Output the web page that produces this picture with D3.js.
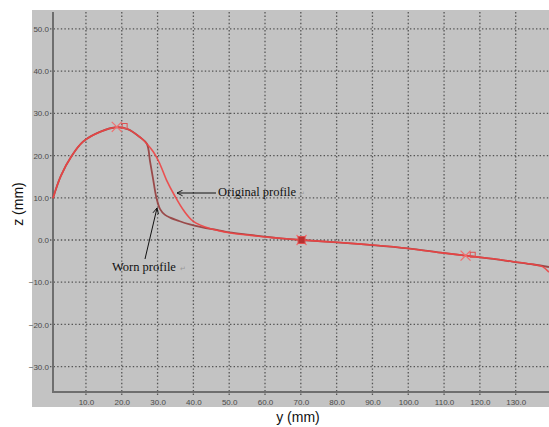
<!DOCTYPE html>
<html>
<head>
<meta charset="utf-8">
<script src="https://cdn.jsdelivr.net/npm/d3@7"></script>
<style>
  html, body { margin: 0; padding: 0; background: #fff; }
  svg { display: block; }
</style>
</head>
<body>
<div id="chart"></div>
<script>
// profile data: y (mm) vs z (mm)
const origY = [0.8, 3, 6, 9.2, 13.9, 18.6, 21.8, 25, 27, 28.8, 30.5, 32.5, 34.9, 37.2, 40, 44.6, 50, 56, 63, 70.2, 80, 90, 100, 109, 116, 123, 129, 135, 137.5, 139.3];
const origZ = [9.9, 15.2, 19.9, 23.3, 25.6, 26.7, 26.2, 24.4, 22.8, 20.9, 18.3, 14.2, 10.3, 7.1, 4.4, 2.7, 1.7, 1.1, 0.5, 0, -0.55, -1.2, -2.0, -3.0, -3.7, -4.4, -5.1, -5.8, -6.3, -7.6];

const wornY = [0.8, 3, 6, 9.2, 13.9, 18.6, 21.8, 25, 27, 27.9, 28.8, 29.6, 30.7, 32, 33.5, 36, 39, 42.5, 46.5, 50, 55.8, 63, 70.2, 80, 90, 100, 109, 116, 123, 129, 135, 139.3];
const wornZ = [9.9, 15.2, 19.9, 23.3, 25.6, 26.7, 26.2, 24.4, 22.8, 18.6, 14.2, 10.3, 7.3, 6.0, 5.3, 4.5, 3.7, 3.0, 2.4, 1.8, 1.2, 0.5, 0, -0.55, -1.2, -2.0, -3.0, -3.7, -4.4, -5.1, -5.8, -6.4];

// marker positions (X crosses and little squares)
const crossY = [18.6, 70.2, 116];
const crossZ = [26.8, 0, -3.7];
const boxY = [20.8, 70.2, 118];
const boxZ = [27.0, 0, -3.5];

const xTicks = [10, 20, 30, 40, 50, 60, 70, 80, 90, 100, 110, 120, 130];
const zTicks = [50, 40, 30, 20, 10, 0, -10, -20, -30];

const W = 549, H = 427;
const plot = { left: 53, right: 549, top: 12, bottom: 392 };

const svg = d3.select('#chart').append('svg')
  .attr('width', W).attr('height', H);

// grey panel
svg.append('rect')
  .attr('x', 32).attr('y', 10)
  .attr('width', W - 32).attr('height', 397)
  .attr('fill', '#c3c3c3');

const x = d3.scaleLinear().domain([0.8, 139.3]).range([plot.left, plot.right]);
const y = d3.scaleLinear().domain([-36, 54]).range([plot.bottom, plot.top]);

const gridColor = '#555';

// dotted grid
svg.append('g')
  .selectAll('line')
  .data(xTicks)
  .join('line')
  .attr('x1', d => x(d)).attr('x2', d => x(d))
  .attr('y1', plot.top).attr('y2', plot.bottom + 4)
  .attr('stroke', gridColor)
  .attr('stroke-width', 1.3)
  .attr('stroke-dasharray', '1.4,2.2');

svg.append('g')
  .selectAll('line')
  .data(zTicks)
  .join('line')
  .attr('x1', plot.left - 3).attr('x2', plot.right)
  .attr('y1', d => y(d)).attr('y2', d => y(d))
  .attr('stroke', gridColor)
  .attr('stroke-width', 1.3)
  .attr('stroke-dasharray', '1.4,2.2');

// tick labels via d3 axes, axis lines drawn separately
const tickFont = '"Liberation Sans", Arial, sans-serif';

svg.append('g')
  .attr('transform', `translate(${plot.left - 3},0)`)
  .call(d3.axisLeft(y).tickValues(zTicks).tickSize(0).tickPadding(1).tickFormat(d3.format('.1f')))
  .call(g => g.select('.domain').remove())
  .call(g => g.selectAll('text')
    .attr('fill', '#4a4a4a')
    .attr('font-size', 8)
    .attr('font-family', tickFont));

svg.append('g')
  .attr('transform', `translate(0,${plot.bottom + 4})`)
  .call(d3.axisBottom(x).tickValues(xTicks).tickSize(0).tickPadding(3).tickFormat(d3.format('.1f')))
  .call(g => g.select('.domain').remove())
  .call(g => g.selectAll('text')
    .attr('fill', '#4a4a4a')
    .attr('font-size', 8)
    .attr('font-family', tickFont));

svg.append('line')
  .attr('x1', plot.left).attr('x2', plot.left)
  .attr('y1', plot.top).attr('y2', plot.bottom)
  .attr('stroke', '#6e6e6e').attr('stroke-width', 2);

svg.append('line')
  .attr('x1', plot.left - 1).attr('x2', plot.right)
  .attr('y1', plot.bottom).attr('y2', plot.bottom)
  .attr('stroke', '#6e6e6e').attr('stroke-width', 2);

// curves
const line = d3.line()
  .x(d => x(d[0]))
  .y(d => y(d[1]))
  .curve(d3.curveCatmullRom.alpha(0.5));

const worn = wornY.map((v, i) => [v, wornZ[i]]);
const orig = origY.map((v, i) => [v, origZ[i]]);

svg.append('path')
  .datum(worn)
  .attr('d', line)
  .attr('fill', 'none')
  .attr('stroke', '#9a4a4a')
  .attr('stroke-width', 1.8);

svg.append('path')
  .datum(orig)
  .attr('d', line)
  .attr('fill', 'none')
  .attr('stroke', '#ee4444')
  .attr('stroke-width', 1.6)
  .attr('opacity', 0.9);

// markers
const marks = svg.append('g');
crossY.forEach((v, i) => {
  const cx = x(v), cy = y(crossZ[i]), s = 5;
  marks.append('path')
    .attr('d', `M${cx - s},${cy - s}L${cx + s},${cy + s}M${cx - s},${cy + s}L${cx + s},${cy - s}`)
    .attr('stroke', '#f07070')
    .attr('stroke-width', 1.3)
    .attr('fill', 'none');
});
boxY.forEach((v, i) => {
  const cx = x(v), cy = y(boxZ[i]);
  const filled = i === 1;
  marks.append('rect')
    .attr('x', cx - (filled ? 3.5 : 2.5)).attr('y', cy - (filled ? 3.5 : 2.5))
    .attr('width', filled ? 7 : 5).attr('height', filled ? 7 : 5)
    .attr('fill', filled ? '#b83030' : 'none')
    .attr('stroke', '#e05050')
    .attr('stroke-width', 1);
});

// annotations
svg.append('defs').append('marker')
  .attr('id', 'arr')
  .attr('viewBox', '0 0 10 10')
  .attr('refX', 9).attr('refY', 5)
  .attr('markerWidth', 7).attr('markerHeight', 7)
  .attr('orient', 'auto')
  .append('path')
  .attr('d', 'M1,1L9,5L1,9')
  .attr('fill', 'none')
  .attr('stroke', '#111')
  .attr('stroke-width', 1.3);

const serif = '"Liberation Serif", "Times New Roman", serif';

svg.append('line')
  .attr('x1', 216).attr('y1', 193)
  .attr('x2', 177).attr('y2', 193)
  .attr('stroke', '#111').attr('stroke-width', 1)
  .attr('marker-end', 'url(#arr)');

svg.append('text')
  .attr('x', 218).attr('y', 196)
  .attr('font-family', serif)
  .attr('font-size', 12.5)
  .attr('fill', '#111')
  .text('Original profile');

svg.append('text')
  .attr('x', 299).attr('y', 196)
  .attr('font-family', serif)
  .attr('font-size', 7)
  .attr('fill', '#999')
  .text('↵');

svg.append('line')
  .attr('x1', 145).attr('y1', 259)
  .attr('x2', 157).attr('y2', 208)
  .attr('stroke', '#111').attr('stroke-width', 1)
  .attr('marker-end', 'url(#arr)');

svg.append('text')
  .attr('x', 112).attr('y', 271)
  .attr('font-family', serif)
  .attr('font-size', 12.5)
  .attr('fill', '#111')
  .text('Worn profile');

svg.append('text')
  .attr('x', 180).attr('y', 271)
  .attr('font-family', serif)
  .attr('font-size', 7)
  .attr('fill', '#999')
  .text('↵');

// axis titles
const sans = '"Liberation Sans", Arial, sans-serif';

svg.append('text')
  .attr('transform', 'translate(23,204) rotate(-90)')
  .attr('text-anchor', 'middle')
  .attr('font-family', sans)
  .attr('font-size', 14)
  .attr('fill', '#111')
  .text('z (mm)');

svg.append('text')
  .attr('x', 298).attr('y', 422)
  .attr('text-anchor', 'middle')
  .attr('font-family', sans)
  .attr('font-size', 14)
  .attr('fill', '#111')
  .text('y (mm)');
</script>
</body>
</html>
